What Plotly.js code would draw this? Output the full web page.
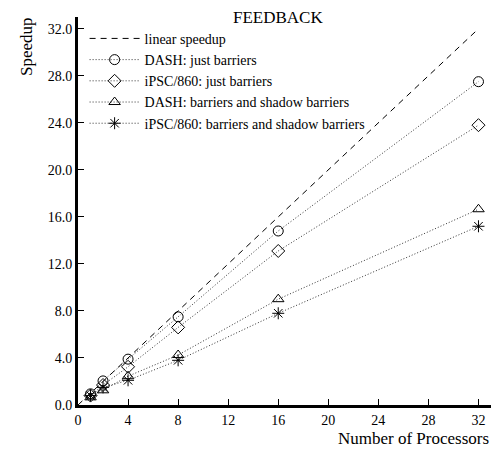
<!DOCTYPE html>
<html><head><meta charset="utf-8">
<script src="https://cdn.plot.ly/plotly-3.0.1.min.js"></script>
<style>html,body{margin:0;padding:0;background:#fff}#chart{width:491px;height:449px}</style>
</head><body><div id="chart"></div>
<script>
const processors = [1, 2, 4, 8, 16, 32];
const linearX = [0, 32];
const linearY = [0, 32];
const dashJust = [0.95, 2.05, 3.9, 7.5, 14.8, 27.5];
const ipscJust = [0.8, 1.7, 3.25, 6.6, 13.1, 23.8];
const dashShadow = [0.65, 1.25, 2.45, 4.25, 9.0, 16.65];
const ipscShadow = [0.8, 1.5, 2.1, 3.8, 7.8, 15.2];
const names = ["linear speedup", "DASH: just barriers", "iPSC/860: just barriers",
  "DASH: barriers and shadow barriers", "iPSC/860: barriers and shadow barriers"];
const yTicks = [0, 4, 8, 12, 16, 20, 24, 28, 32];
const xTicks = [0, 4, 8, 12, 16, 20, 24, 28, 32];

const font = {family: "Liberation Serif, Times New Roman, serif", color: "#000"};
function series(y, name, sym) {
  return {x: processors, y: y, name: name, mode: "lines+markers", type: "scatter",
    line: {color: "#333", dash: "1px,2px", width: 1},
    marker: {symbol: sym, size: 10, color: "#000", line: {width: 1, color: "#000"}}};
}
const data = [
  {x: linearX, y: linearY, name: names[0], mode: "lines", type: "scatter",
   line: {color: "#000", dash: "6px,5px", width: 1}},
  series(dashJust, names[1], "circle-open"),
  series(ipscJust, names[2], "diamond-open"),
  series(dashShadow, names[3], "triangle-up-open"),
  series(ipscShadow, names[4], "asterisk-open")
];
const layout = {
  width: 491, height: 449,
  margin: {l: 78, r: 0, t: 17, b: 44},
  paper_bgcolor: "#fff", plot_bgcolor: "#fff",
  font: Object.assign({size: 14}, font),
  showlegend: true,
  legend: {x: 0.016, y: 0.985, xanchor: "left", yanchor: "top", bgcolor: "rgba(0,0,0,0)",
    font: Object.assign({size: 14}, font), tracegroupgap: 0, itemwidth: 50},
  xaxis: {range: [0, 33], tickvals: xTicks, ticktext: xTicks.map(String),
    ticks: "inside", ticklen: 6, tickwidth: 1, tickcolor: "#000",
    showline: true, linewidth: 3, linecolor: "#000", showgrid: false, zeroline: false,
    tickfont: Object.assign({size: 14}, font)},
  yaxis: {range: [0, 33], tickvals: yTicks, ticktext: yTicks.map(v => v.toFixed(1)),
    ticks: "inside", ticklen: 6, tickwidth: 1, tickcolor: "#000",
    showline: true, linewidth: 3, linecolor: "#000", showgrid: false, zeroline: false,
    tickfont: Object.assign({size: 14}, font)},
  annotations: [
    {text: "FEEDBACK", xref: "paper", yref: "paper", x: 0.485, y: 1, yshift: 0, xanchor: "center",
     yanchor: "middle", showarrow: false, font: Object.assign({size: 17}, font)},
    {text: "Speedup", xref: "paper", yref: "paper", x: 0, xshift: -52, y: 1, yshift: -30, textangle: -90,
     xanchor: "center", yanchor: "middle", showarrow: false, font: Object.assign({size: 17}, font)},
    {text: "Number of Processors", xref: "paper", yref: "paper", x: 1, y: 0, yshift: -33,
     xanchor: "right", yanchor: "middle", showarrow: false, font: Object.assign({size: 17}, font)}
  ]
};
Plotly.newPlot("chart", data, layout, {displayModeBar: false, staticPlot: true});
</script></body></html>
